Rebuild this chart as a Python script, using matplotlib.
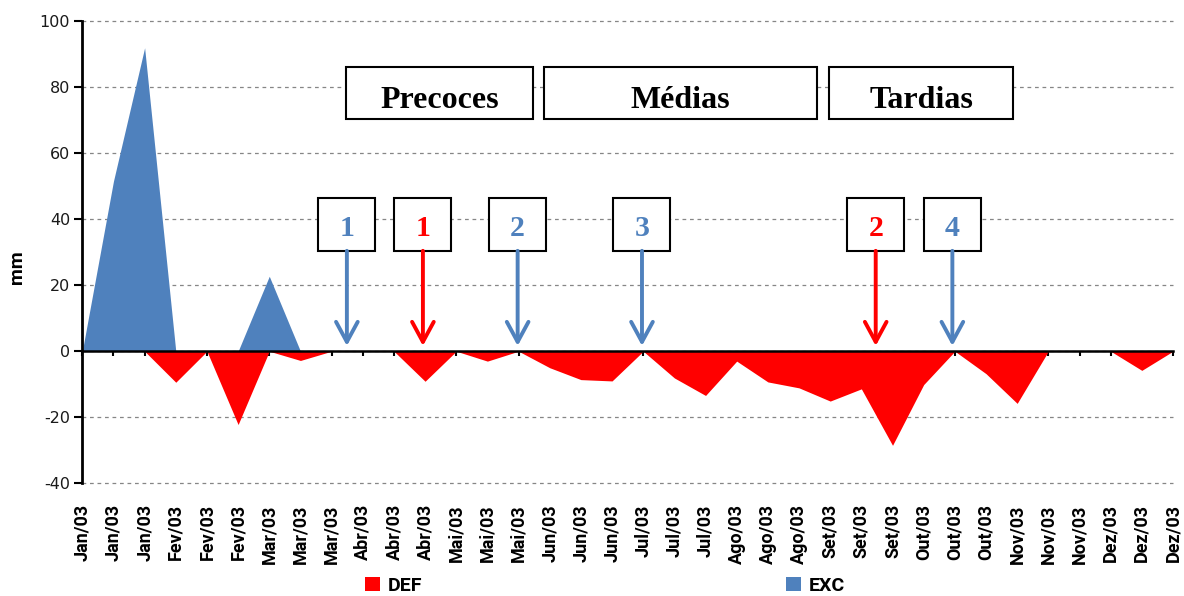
import numpy as np
import matplotlib
matplotlib.use("Agg")
import matplotlib.pyplot as plt
from matplotlib.patches import Rectangle, Patch

plt.rcParams["axes.unicode_minus"] = False

# ---------------- data ----------------
tick_labels = (["Jan/03"] * 3 + ["Fev/03"] * 3 + ["Mar/03"] * 3 + ["Abr/03"] * 3 +
               ["Mai/03"] * 3 + ["Jun/03"] * 3 + ["Jul/03"] * 3 + ["Ago/03"] * 3 +
               ["Set/03"] * 3 + ["Out/03"] * 3 + ["Nov/03"] * 3 + ["Dez/03"] * 3)

DEF = [0, 0, 0, -9.4, 0, -22.2, 0, -2.8, 0, 0,
       0, -9.1, 0, -3.0, 0, -5.0, -8.6, -9.0, 0, -8.1,
       -13.4, -3.0, -9.3, -11.1, -15.1, -11.4, -28.5, -10.1, 0, -6.8,
       -15.8, 0, 0, 0, -5.8, 0]
EXC = [0, 51.5, 91.9, 0, 0, 0, 22.7, 0, 0, 0,
       0, 0, 0, 0, 0, 0, 0, 0, 0, 0,
       0, 0, 0, 0, 0, 0, 0, 0, 0, 0,
       0, 0, 0, 0, 0, 0]

group_labels = ["Precoces", "Médias", "Tardias"]
marker_labels = ["1", "1", "2", "3", "2", "4"]
marker_series = ["EXC", "DEF", "EXC", "EXC", "DEF", "EXC"]

BLUE = "#4F81BD"
RED = "#FF0000"
series_color = {"DEF": RED, "EXC": BLUE}
SANS = "Roboto"

# ---------------- figure ----------------
W, H = 1184, 596
fig = plt.figure(figsize=(W / 100, H / 100), dpi=100)
ax = fig.add_axes([82.3 / W, 1 - 483.3 / H, (1173 - 82.3) / W, (483.3 - 21) / H])

x = np.arange(len(tick_labels))
ax.fill_between(x, 0, DEF, color=RED, linewidth=0, zorder=1)
ax.fill_between(x, 0, EXC, color=BLUE, linewidth=0, zorder=1)

ax.set_xlim(0, len(tick_labels) - 1)
ax.set_ylim(-40, 100)
ax.set_yticks(np.arange(-40, 101, 20))

ax.set_axisbelow(True)
ax.yaxis.grid(True, linestyle=(0, (3, 3)), color="#868686", linewidth=0.9)
ax.xaxis.grid(False)
for gl in ax.yaxis.get_gridlines():
    gl.set_clip_on(False)

for s in ("top", "right"):
    ax.spines[s].set_visible(False)
ax.spines["left"].set_linewidth(2.0)
ax.spines["bottom"].set_position(("data", 0))
ax.spines["bottom"].set_linewidth(1.8)
ax.spines["bottom"].set_zorder(3)

ax.tick_params(axis="y", direction="out", length=5.8, width=1.5, pad=3,
               labelsize=11.5, labelcolor="#1a1a1a")
ax.set_xticks(x)
ax.tick_params(axis="x", direction="out", length=3.6, width=1.5, labelbottom=False)

sec = ax.secondary_xaxis(0.0)
sec.set_xticks(x, labels=tick_labels, rotation=90, fontsize=13,
               fontweight="bold", family=SANS)
sec.tick_params(axis="x", length=0, pad=15)
for sp in sec.spines.values():
    sp.set_visible(False)

# header boxes
header_spans = [(8.45, 14.47), (14.82, 23.58), (23.96, 29.87)]
for (x0, x1), lab in zip(header_spans, group_labels):
    ax.add_patch(Rectangle((x0, 70.4), x1 - x0, 86.0 - 70.4, facecolor="white",
                           edgecolor="black", linewidth=1.5, zorder=4))
    ax.text((x0 + x1) / 2, 73.7, lab, ha="center", va="baseline", fontsize=23,
            fontweight="bold", family="Liberation Serif", zorder=5)

# numbered markers with arrows
marker_x = [8.49, 10.93, 13.97, 17.96, 25.46, 27.92]
for mx, lab, ser in zip(marker_x, marker_labels, marker_series):
    c = series_color[ser]
    ax.add_patch(Rectangle((mx - 0.915, 30.4), 1.83, 46.3 - 30.4, facecolor="white",
                           edgecolor="black", linewidth=1.5, zorder=4))
    ax.text(mx, 34.8, lab, ha="center", va="baseline", fontsize=21.5,
            fontweight="bold", family="Liberation Serif", color=c, zorder=5)
    ax.annotate("", xy=(mx, 1.6), xytext=(mx, 30.4),
                arrowprops=dict(arrowstyle="->,head_length=0.72,head_width=0.39",
                                color=c, lw=2.8, mutation_scale=20,
                                shrinkA=0, shrinkB=0),
                zorder=5)

# y label
fig.text(16.7 / W, 1 - 266.7 / H, "mm", rotation=90, ha="center", va="center",
         fontsize=14, fontweight="bold", family=SANS)

# legends
leg_kw = dict(frameon=False, loc="center left", borderpad=0, borderaxespad=0,
              handlelength=0.75, handleheight=0.75, handletextpad=0.4,
              prop=dict(family=SANS, weight="bold", size=14))
fig.legend(handles=[Patch(facecolor=RED, edgecolor="none", label="DEF")],
           bbox_to_anchor=(365 / W, 1 - 586 / H), **leg_kw)
fig.legend(handles=[Patch(facecolor=BLUE, edgecolor="none", label="EXC")],
           bbox_to_anchor=(786 / W, 1 - 586 / H), **leg_kw)

fig.savefig("out.png", dpi=100)
